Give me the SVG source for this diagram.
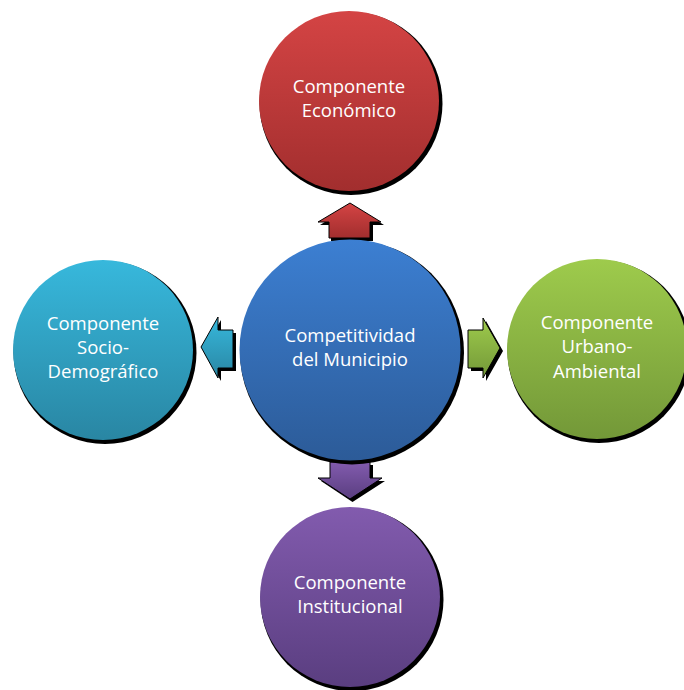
<svg xmlns="http://www.w3.org/2000/svg" width="684" height="690" viewBox="0 0 684 690">
<defs>
<linearGradient id="gRed" x1="0" y1="0" x2="0" y2="1"><stop offset="0" stop-color="#d44444"/><stop offset="1" stop-color="#a22e2e"/></linearGradient>
<linearGradient id="gBlue" x1="0" y1="0" x2="0" y2="1"><stop offset="0" stop-color="#3c7fd2"/><stop offset="1" stop-color="#2c5b98"/></linearGradient>
<linearGradient id="gCyan" x1="0" y1="0" x2="0" y2="1"><stop offset="0" stop-color="#37b8dc"/><stop offset="1" stop-color="#2986a3"/></linearGradient>
<linearGradient id="gGreen" x1="0" y1="0" x2="0" y2="1"><stop offset="0" stop-color="#9ecb4c"/><stop offset="1" stop-color="#739838"/></linearGradient>
<linearGradient id="gPurple" x1="0" y1="0" x2="0" y2="1"><stop offset="0" stop-color="#825bae"/><stop offset="1" stop-color="#5a3e80"/></linearGradient>
</defs>
<style>
.sh{fill:#000}
.ar{stroke:#000;stroke-width:1}
text{font-family:"Open Sans","Noto Sans",sans-serif;font-size:18.5px;fill:#ffffff;text-anchor:middle}
</style>
<rect width="684" height="690" fill="#ffffff"/>
<g id="connectors">
<g id="arrow-up">
<polygon class="sh" points="352.5,205 384,225 373,225 373,241 331,241 331,225 320,225"/>
<polygon class="ar" fill="url(#gRed)" points="350,203 381,222 370,222 370,238 329,238 329,222 318,222"/>
</g>
<g id="arrow-left">
<polygon class="sh" points="203,350 221,320 221,333 236,333 236,371 221,371 221,381"/>
<polygon class="ar" fill="url(#gCyan)" points="201,347 218,317 218,330 233,330 233,368 218,368 218,378"/>
</g>
<g id="arrow-right">
<polygon class="sh" points="471,333 486,333 486,321 503,351 486,381 486,371 471,371"/>
<polygon class="ar" fill="url(#gGreen)" points="468,330 483,330 483,318 500,348 483,378 483,368 468,368"/>
</g>
<g id="arrow-down">
<polygon class="sh" points="333,465 373,465 373,481 385,481 352.5,502 321,481 333,481"/>
<polygon class="ar" fill="url(#gPurple)" points="330,462 370,462 370,478 382,478 350,499 318,478 330,478"/>
</g>
</g>
<g id="node-economico">
<circle class="sh" cx="351" cy="103.5" r="91.5"/>
<circle cx="349" cy="101" r="90" fill="url(#gRed)"/>
<text x="349" y="93">Componente</text>
<text x="349" y="117">Económico</text>
</g>
<g id="node-center">
<circle class="sh" cx="352" cy="352.5" r="112"/>
<circle cx="350" cy="350" r="110.5" fill="url(#gBlue)"/>
<text x="350" y="342">Competitividad</text>
<text x="350" y="366">del Municipio</text>
</g>
<g id="node-socio">
<circle class="sh" cx="105" cy="352.5" r="91.5"/>
<circle cx="103" cy="350" r="90" fill="url(#gCyan)"/>
<text x="103" y="330">Componente</text>
<text x="103" y="354">Socio-</text>
<text x="103" y="378">Demográfico</text>
</g>
<g id="node-urbano">
<circle class="sh" cx="599" cy="351.5" r="91.5"/>
<circle cx="597" cy="349" r="90" fill="url(#gGreen)"/>
<text x="597" y="329">Componente</text>
<text x="597" y="353">Urbano-</text>
<text x="597" y="378">Ambiental</text>
</g>
<g id="node-institucional">
<circle class="sh" cx="352" cy="599.5" r="91.5"/>
<circle cx="350" cy="597" r="90" fill="url(#gPurple)"/>
<text x="350" y="589">Componente</text>
<text x="350" y="613">Institucional</text>
</g>
</svg>
